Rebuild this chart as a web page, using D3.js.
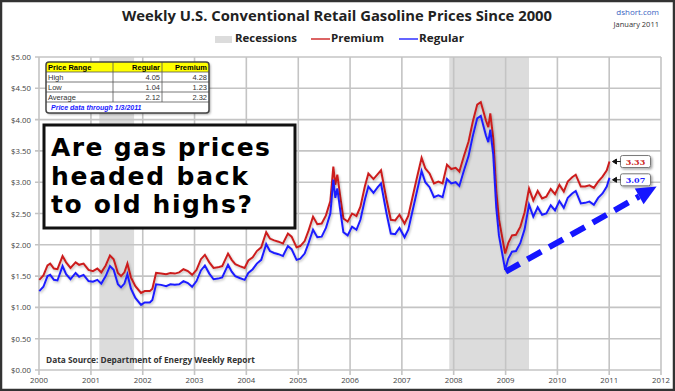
<!DOCTYPE html>
<html>
<head>
<meta charset="utf-8">
<script src="https://cdn.jsdelivr.net/npm/d3@7"></script>
<style>
html,body{margin:0;padding:0;background:#fff;}
svg{display:block;}
</style>
</head>
<body>
<svg id="chart" width="675" height="391"></svg>
<script>
// ---------------- DATA ----------------
const dates = [
"2000-01-03","2000-02-01","2000-03-01","2000-03-20","2000-04-15","2000-05-10","2000-06-15","2000-07-10","2000-08-10","2000-09-15","2000-10-10","2000-11-10","2000-12-15",
"2001-01-15","2001-02-15","2001-03-15","2001-04-15","2001-05-15","2001-06-10","2001-07-10","2001-08-01","2001-08-25","2001-09-15","2001-10-10","2001-11-10","2001-12-20",
"2002-01-15","2002-02-20","2002-03-10","2002-04-05","2002-05-10","2002-06-15","2002-07-15","2002-08-15","2002-09-15","2002-10-15","2002-11-15","2002-12-15",
"2003-01-15","2003-02-15","2003-03-15","2003-04-15","2003-05-15","2003-06-15","2003-07-15","2003-08-25","2003-09-20","2003-10-15","2003-11-15","2003-12-20",
"2004-01-15","2004-02-15","2004-03-15","2004-04-15","2004-05-20","2004-06-15","2004-07-15","2004-08-15","2004-09-15","2004-10-20","2004-11-15","2004-12-20",
"2005-01-15","2005-02-15","2005-03-15","2005-04-15","2005-05-15","2005-06-15","2005-07-15","2005-08-15","2005-09-05","2005-09-19","2005-10-03","2005-10-24","2005-11-15","2005-12-15",
"2006-01-15","2006-02-15","2006-03-15","2006-04-15","2006-05-10","2006-06-15","2006-07-15","2006-08-07","2006-09-15","2006-10-15","2006-11-15","2006-12-15",
"2007-01-20","2007-02-15","2007-03-15","2007-04-15","2007-05-20","2007-06-15","2007-07-15","2007-08-15","2007-09-15","2007-10-15","2007-11-15","2007-12-15",
"2008-01-15","2008-02-10","2008-03-15","2008-04-15","2008-05-15","2008-06-15","2008-07-10","2008-08-15","2008-09-01","2008-09-15","2008-10-06","2008-10-27","2008-11-15","2008-12-29",
"2009-01-20","2009-02-15","2009-03-15","2009-04-15","2009-05-15","2009-06-15","2009-07-15","2009-08-15","2009-09-15","2009-10-15","2009-11-15","2009-12-15",
"2010-01-15","2010-02-15","2010-03-15","2010-04-15","2010-05-10","2010-06-15","2010-07-15","2010-08-15","2010-09-15","2010-10-15","2010-11-15","2010-12-15",
"2011-01-03"
];
const regular = [
1.26,1.33,1.50,1.52,1.44,1.43,1.66,1.53,1.45,1.55,1.49,1.52,1.42,
1.41,1.44,1.38,1.50,1.66,1.60,1.37,1.32,1.38,1.53,1.30,1.15,1.04,
1.08,1.08,1.12,1.37,1.36,1.34,1.37,1.36,1.37,1.42,1.39,1.33,
1.42,1.59,1.67,1.54,1.45,1.46,1.48,1.68,1.57,1.50,1.47,1.44,
1.55,1.61,1.70,1.76,2.01,1.90,1.87,1.85,1.82,1.98,1.93,1.76,
1.78,1.86,2.03,2.24,2.12,2.13,2.27,2.50,3.04,2.75,2.90,2.55,2.20,2.15,
2.29,2.24,2.40,2.72,2.93,2.83,2.92,2.98,2.50,2.18,2.17,2.27,
2.12,2.24,2.52,2.83,3.18,3.00,2.92,2.76,2.79,2.76,3.05,2.98,
3.00,2.94,3.20,3.42,3.74,4.02,4.06,3.75,3.64,3.84,3.44,2.60,2.15,1.60,
1.78,1.89,1.90,2.03,2.25,2.64,2.45,2.60,2.48,2.50,2.63,2.55,
2.70,2.59,2.75,2.82,2.86,2.66,2.67,2.69,2.64,2.75,2.82,2.93,
3.07
];
const premium = [
1.44,1.51,1.67,1.70,1.62,1.61,1.82,1.72,1.63,1.72,1.68,1.70,1.60,
1.58,1.62,1.56,1.67,1.83,1.77,1.55,1.50,1.56,1.70,1.48,1.34,1.23,
1.26,1.26,1.30,1.55,1.54,1.53,1.55,1.54,1.56,1.61,1.58,1.52,
1.60,1.77,1.84,1.72,1.63,1.64,1.66,1.86,1.76,1.69,1.66,1.63,
1.75,1.80,1.90,1.96,2.20,2.10,2.07,2.05,2.02,2.18,2.13,1.96,
1.98,2.06,2.23,2.45,2.33,2.34,2.47,2.70,3.25,2.96,3.12,2.77,2.42,2.37,
2.50,2.46,2.61,2.93,3.14,3.05,3.13,3.19,2.72,2.40,2.39,2.48,
2.34,2.46,2.74,3.05,3.39,3.22,3.14,2.98,3.01,2.98,3.28,3.21,
3.23,3.17,3.43,3.65,3.97,4.24,4.28,3.99,3.88,4.10,3.70,2.86,2.41,1.86,
2.03,2.15,2.16,2.29,2.52,2.90,2.71,2.86,2.74,2.77,2.89,2.81,
2.96,2.85,3.01,3.08,3.12,2.93,2.93,2.95,2.91,3.01,3.09,3.19,
3.33
];
const recessions = [["2001-03-01","2001-11-01"],["2007-12-01","2009-06-15"]];
const yTicks = [0,0.5,1,1.5,2,2.5,3,3.5,4,4.5,5];
const xYears = [2000,2001,2002,2003,2004,2005,2006,2007,2008,2009,2010,2011,2012];
const tableHeader = ["Price Range","Regular","Premium"];
const tableRows = [["High","4.05","4.28"],["Low","1.04","1.23"],["Average","2.12","2.32"]];
const tableNote = "Price data through 1/3/2011";
const calloutLines = ["Are gas prices","headed back","to old highs?"];
const trendArrow = [["2009-01-01",1.57],["2011-12-01",2.93]];

// ---------------- CHART ----------------
const svg = d3.select("#chart");
const parse = d3.timeParse("%Y-%m-%d");
const x = d3.scaleTime().domain([new Date(2000,0,1), new Date(2012,0,1)]).range([39,661]);
const y = d3.scaleLinear().domain([0,5]).range([370,57]);
const font = "'Open Sans', Lato, sans-serif";

svg.append("rect").attr("x",0).attr("y",0).attr("width",675).attr("height",391).attr("fill","#fff");

const defs = svg.append("defs");
const f = defs.append("filter").attr("id","shadow").attr("x","-10%").attr("y","-10%").attr("width","130%").attr("height","140%");
f.append("feDropShadow").attr("dx",1.5).attr("dy",1.5).attr("stdDeviation",1).attr("flood-color","#000").attr("flood-opacity",0.35);
const fl = defs.append("filter").attr("id","lshadow").attr("x","-5%").attr("y","-5%").attr("width","110%").attr("height","110%");
fl.append("feDropShadow").attr("dx",1).attr("dy",1.5).attr("stdDeviation",0.8).attr("flood-color","#000").attr("flood-opacity",0.25);

// recessions
svg.append("g").selectAll("rect").data(recessions).join("rect")
  .attr("x",d=>x(parse(d[0]))).attr("width",d=>x(parse(d[1]))-x(parse(d[0])))
  .attr("y",y(5)).attr("height",y(0)-y(5)).attr("fill","#dcdcdc");

// gridlines
const grid = svg.append("g");
grid.selectAll("line.h").data(yTicks).join("line").attr("class","h")
  .attr("x1",35).attr("x2",661).attr("y1",d=>y(d)).attr("y2",d=>y(d))
  .attr("stroke","#c4c4c4").attr("stroke-width",1.6);
grid.selectAll("line.v").data(xYears).join("line").attr("class","v")
  .attr("x1",d=>x(new Date(d,0,1))).attr("x2",d=>x(new Date(d,0,1)))
  .attr("y1",y(5)).attr("y2",y(0)+5)
  .attr("stroke","#c4c4c4").attr("stroke-width",1.6);

// axis labels
svg.append("g").selectAll("text").data(yTicks).join("text")
  .attr("x",31).attr("y",d=>y(d)+3).attr("text-anchor","end")
  .attr("font-family",font).attr("font-size",7.8).attr("fill","#444")
  .text(d=>"$"+d.toFixed(2));
svg.append("g").selectAll("text").data(xYears).join("text")
  .attr("x",d=>x(new Date(d,0,1))).attr("y",383).attr("text-anchor","middle")
  .attr("font-family",font).attr("font-size",7.8).attr("fill","#444")
  .text(d=>d);

// lines
const pts = dates.map((d,i)=>({date:parse(d), reg:regular[i], prem:premium[i]}));
const lineP = d3.line().x(d=>x(d.date)).y(d=>y(d.prem));
const lineR = d3.line().x(d=>x(d.date)).y(d=>y(d.reg));
svg.append("path").datum(pts).attr("d",lineP).attr("fill","none")
  .attr("stroke","#cc1f1f").attr("stroke-width",2).attr("filter","url(#lshadow)");
svg.append("path").datum(pts).attr("d",lineR).attr("fill","none")
  .attr("stroke","#1f1fff").attr("stroke-width",2).attr("filter","url(#lshadow)");

// title
svg.append("text").attr("x",337).attr("y",21).attr("text-anchor","middle")
  .attr("font-family",font).attr("font-weight","bold").attr("font-size",14.5).attr("fill","#222")
  .attr("textLength",430).attr("lengthAdjust","spacingAndGlyphs")
  .text("Weekly U.S. Conventional Retail Gasoline Prices Since 2000");
svg.append("text").attr("x",659).attr("y",15).attr("text-anchor","end")
  .attr("font-family",font).attr("font-size",8).attr("fill","#3a5fbf").text("dshort.com");
svg.append("text").attr("x",659).attr("y",27).attr("text-anchor","end")
  .attr("font-family",font).attr("font-size",7.5).attr("fill","#333").text("January 2011");

// legend
const lg = svg.append("g").attr("font-family",font).attr("font-weight","bold").attr("font-size",10.5).attr("fill","#222");
lg.append("rect").attr("x",215).attr("y",36).attr("width",17).attr("height",7).attr("fill","#dcdcdc");
lg.append("text").attr("x",235).attr("y",42).attr("textLength",62).attr("lengthAdjust","spacingAndGlyphs").text("Recessions");
lg.append("line").attr("x1",311).attr("x2",330).attr("y1",39).attr("y2",39).attr("stroke","#d03030").attr("stroke-width",1.5);
lg.append("text").attr("x",331).attr("y",42).attr("textLength",53).attr("lengthAdjust","spacingAndGlyphs").text("Premium");
lg.append("line").attr("x1",399).attr("x2",418).attr("y1",39).attr("y2",39).attr("stroke","#3030ff").attr("stroke-width",1.5);
lg.append("text").attr("x",419).attr("y",42).attr("textLength",45).attr("lengthAdjust","spacingAndGlyphs").text("Regular");

// price table
const tb = svg.append("g").attr("font-family","'Liberation Sans', Arial, sans-serif").attr("font-size",7.5);
const tx = 46, tw = 163, ty = 62, th = 51;
tb.append("rect").attr("x",tx).attr("y",ty).attr("width",tw).attr("height",th).attr("rx",3)
  .attr("fill","#fff").attr("filter","url(#shadow)");
tb.append("rect").attr("x",tx).attr("y",ty).attr("width",tw).attr("height",10).attr("fill","#ffff00");
[72,82,92,102].forEach(yy=>tb.append("line").attr("x1",tx).attr("x2",tx+tw).attr("y1",yy).attr("y2",yy).attr("stroke","#555").attr("stroke-width",0.8));
[113,162].forEach(xx=>tb.append("line").attr("x1",xx).attr("x2",xx).attr("y1",ty).attr("y2",102).attr("stroke","#555").attr("stroke-width",0.8));
tb.append("text").attr("x",48).attr("y",70).attr("font-weight","bold").text(tableHeader[0]);
tb.append("text").attr("x",160).attr("y",70).attr("font-weight","bold").attr("text-anchor","end").text(tableHeader[1]);
tb.append("text").attr("x",207).attr("y",70).attr("font-weight","bold").attr("text-anchor","end").text(tableHeader[2]);
tableRows.forEach((r,i)=>{
  const yy = 80 + i*10;
  tb.append("text").attr("x",48).attr("y",yy).attr("fill","#333").text(r[0]);
  tb.append("text").attr("x",160).attr("y",yy).attr("text-anchor","end").attr("fill","#333").text(r[1]);
  tb.append("text").attr("x",207).attr("y",yy).attr("text-anchor","end").attr("fill","#333").text(r[2]);
});
tb.append("text").attr("x",51).attr("y",110).attr("fill","#1a1aff").attr("font-weight","bold").attr("font-style","italic")
  .attr("font-size",7).text(tableNote);
tb.append("rect").attr("x",tx).attr("y",ty).attr("width",tw).attr("height",th).attr("rx",3)
  .attr("fill","none").attr("stroke","#444").attr("stroke-width",1.5);

// callout box
const cb = svg.append("g");
cb.append("rect").attr("x",44).attr("y",125).attr("width",251).attr("height",103)
  .attr("fill","#fff").attr("stroke","#111").attr("stroke-width",3);
const lens = [219,197,201];
calloutLines.forEach((t,i)=>{
  cb.append("text").attr("x",51).attr("y",156+i*28.5)
    .attr("font-family","'DejaVu Sans', Verdana, sans-serif").attr("font-weight","bold").attr("font-size",25)
    .attr("fill","#000").attr("textLength",lens[i]).attr("lengthAdjust","spacing").text(t);
});

// data source
svg.append("text").attr("x",46).attr("y",363).attr("font-family",font).attr("font-weight","bold")
  .attr("font-size",8.3).attr("fill","#333").text("Data Source: Department of Energy Weekly Report");

// end labels
const last = pts[pts.length-1];
const lx = x(last.date);
const endLabels = [{v:last.prem, c:"#cc1f1f", dy:0},{v:last.reg, c:"#1f1fff", dy:2}];
endLabels.forEach(e=>{
  const cy = y(e.v)+e.dy;
  const g = svg.append("g");
  g.append("rect").attr("x",lx+11).attr("y",cy-6).attr("width",30).attr("height",12).attr("rx",2)
    .attr("fill","#fff").attr("stroke","#777").attr("stroke-width",1).attr("filter","url(#shadow)");
  g.append("text").attr("x",lx+26).attr("y",cy+3).attr("text-anchor","middle")
    .attr("font-family","'DejaVu Serif', 'Liberation Serif', serif").attr("font-weight","bold").attr("font-size",8)
    .attr("fill",e.c).text(e.v.toFixed(2));
  g.append("path").attr("d",`M${lx+3},${cy} L${lx+7},${cy-2.5} L${lx+7},${cy+2.5} Z M${lx+7},${cy} L${lx+11},${cy}`)
    .attr("fill","#111").attr("stroke","#111").attr("stroke-width",1);
});

// dashed trend arrow
const a0 = [x(parse(trendArrow[0][0])), y(trendArrow[0][1])];
const a1 = [x(parse(trendArrow[1][0])), y(trendArrow[1][1])];
const ang = Math.atan2(a1[1]-a0[1], a1[0]-a0[0]);
const headLen = 20, headW = 9;
const base = [a1[0]-headLen*Math.cos(ang), a1[1]-headLen*Math.sin(ang)];
svg.append("line").attr("x1",a0[0]).attr("y1",a0[1]).attr("x2",base[0]).attr("y2",base[1])
  .attr("stroke","#1515ff").attr("stroke-width",6).attr("stroke-dasharray","16,9");
const px = -Math.sin(ang), py = Math.cos(ang);
svg.append("path").attr("d",`M${a1[0]},${a1[1]} L${base[0]+px*headW},${base[1]+py*headW} L${base[0]-px*headW},${base[1]-py*headW} Z`)
  .attr("fill","#1515ff");

// outer frame
svg.append("rect").attr("x",1).attr("y",1).attr("width",673).attr("height",389)
  .attr("fill","none").attr("stroke","#333").attr("stroke-width",2.5);
</script>
</body>
</html>
